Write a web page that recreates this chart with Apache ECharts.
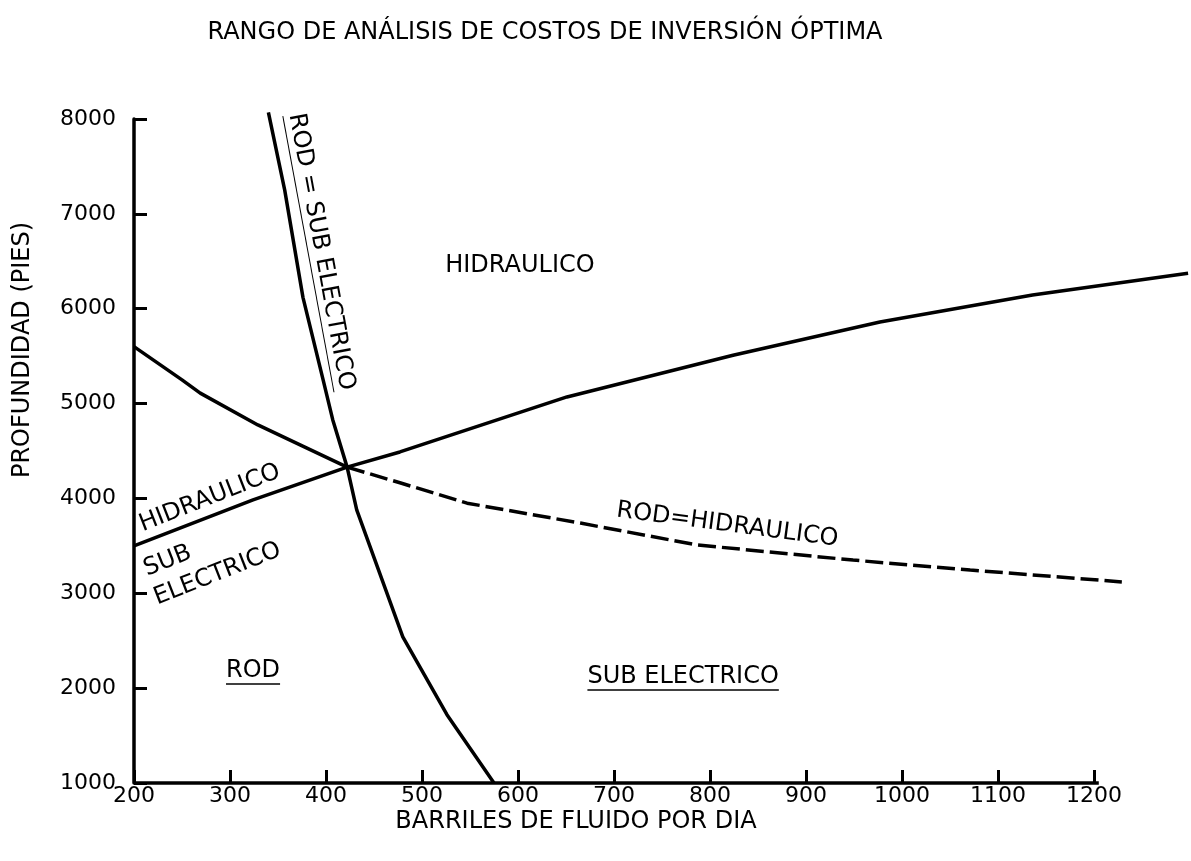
<!DOCTYPE html>
<html><head><meta charset="utf-8">
<script src="https://cdn.jsdelivr.net/npm/echarts@6/dist/echarts.min.js"></script>
<style>html,body{margin:0;padding:0;background:#fff}#c{width:1191px;height:861px}</style>
</head><body><div id="c"></div>
<script>
// ---- data (x: barriles por dia, y: profundidad en pies) ----
const xTickValues = [200,300,400,500,600,700,800,900,1000,1100,1200];
const yTickValues = [1000,2000,3000,4000,5000,6000,7000,8000];
const rodEqSubElectrico = [[340,8070],[357,7250],[376,6120],[397,5250],[407,4830],[422,4330],[432,3880],[480,2540],[526,1720],[575,1000]];
const rodEqHidraulicoSolid = [[200,5600],[250,5250],[269,5110],[329,4775],[373,4565],[422,4330]];
const rodEqHidraulicoDashed = [[422,4330],[477,4165],[547,3950],[665,3740],[786,3510],[949,3350],[1071,3245],[1229,3120]];
const hidrEqSubLeft = [[200,3500],[324,3985],[422,4330]];
const hidrEqSubRight = [[422,4330],[477,4490],[651,5070],[824,5510],[977,5860],[1136,6145],[1298,6375]];
const titleText = 'RANGO DE ANÁLISIS DE COSTOS DE INVERSIÓN ÓPTIMA';
const xName = 'BARRILES DE FLUIDO POR DIA';
const yName = 'PROFUNDIDAD (PIES)';
const regionLabels = ['HIDRAULICO','ROD','SUB ELECTRICO','ROD=HIDRAULICO','ROD = SUB ELECTRICO','HIDRAULICO','SUB','ELECTRICO'];
const regionAnchors = [[602,6450],[324,2180],[772,2117],[818,3720],[395,6600],[279,4004],[235,3340],[287,3203]];

const FONT = '"DejaVu Sans", Verdana, sans-serif';
const chart = echarts.init(document.getElementById('c'), null, {renderer:'canvas'});

function lineSeries(data, dashed){
  return {type:'line', data:data, showSymbol:false, symbol:'none', clip:false, smooth:false,
    lineStyle:{color:'#000', width:3.5, type: dashed ? [18,6] : 'solid'}, animation:false};
}

const series = [
  lineSeries(rodEqSubElectrico,false),
  lineSeries(rodEqHidraulicoSolid,false),
  lineSeries(rodEqHidraulicoDashed,true),
  lineSeries(hidrEqSubLeft,false),
  lineSeries(hidrEqSubRight,false)
];
// x-axis baseline drawn only up to the last labelled tick
series[0].markLine = {silent:true, symbol:'none', animation:false, label:{show:false},
  lineStyle:{color:'#000', width:3.5, type:'solid'},
  data:[[{coord:[xTickValues[0],yTickValues[0]]},{coord:[xTickValues[xTickValues.length-1]+5,yTickValues[0]]}]]};

const option = {
  animation:false,
  backgroundColor:'#fff',
  grid:{left:134, right:1, top:119, bottom:78},
  xAxis:{type:'value', min:200, max:1300, interval:100,
    axisLine:{show:false},
    axisTick:{show:true, inside:true, length:13, lineStyle:{color:'#000', width:3}, customValues:xTickValues},
    axisLabel:{fontFamily:FONT, fontSize:22, color:'#000', margin:2,
      customValues:xTickValues, formatter:v=>String(v)},
    splitLine:{show:false}},
  yAxis:{type:'value', min:1000, max:8000, interval:1000,
    axisLine:{show:true, onZero:false, lineStyle:{color:'#000', width:3.5}},
    axisTick:{show:true, inside:true, length:13, lineStyle:{color:'#000', width:3}},
    axisLabel:{fontFamily:FONT, fontSize:22, color:'#000', margin:18,
      customValues:yTickValues, formatter:v=>String(v)},
    splitLine:{show:false}},
  series:series
};
chart.setOption(option);

const meas = document.createElement('canvas').getContext('2d');
function textWidth(t, size){ meas.font = size+'px ' + FONT; return meas.measureText(t).width; }

const rotations = [0,0,0,-7.5,-79.5,21.5,21.5,21.5];
const underlined = [false,true,true,false,true,false,false,false];
const graphics = [];
graphics.push({type:'text', x:545, y:33, style:{text:titleText, font:'24px '+FONT, fill:'#000', align:'center', verticalAlign:'middle'}});
graphics.push({type:'text', x:576, y:822, style:{text:xName, font:'24px '+FONT, fill:'#000', align:'center', verticalAlign:'middle'}});
graphics.push({type:'text', x:23, y:350, rotation:Math.PI/2, style:{text:yName, font:'24px '+FONT, fill:'#000', align:'center', verticalAlign:'middle'}});
regionLabels.forEach((t,i)=>{
  const p = chart.convertToPixel({gridIndex:0}, regionAnchors[i]);
  const w = textWidth(t,24);
  const children = [{type:'text', x:0, y:0, style:{text:t, font:'24px '+FONT, fill:'#000', align:'center', verticalAlign:'middle'}}];
  if (underlined[i]) children.push({type:'line', shape:{x1:-w/2, y1:13, x2:w/2, y2:13}, style:{stroke:'#000', lineWidth: i===4 ? 1 : 1.5}});
  graphics.push({type:'group', x:p[0], y:p[1], rotation:rotations[i]*Math.PI/180, children:children});
});
chart.setOption({graphic:graphics});
</script></body></html>
